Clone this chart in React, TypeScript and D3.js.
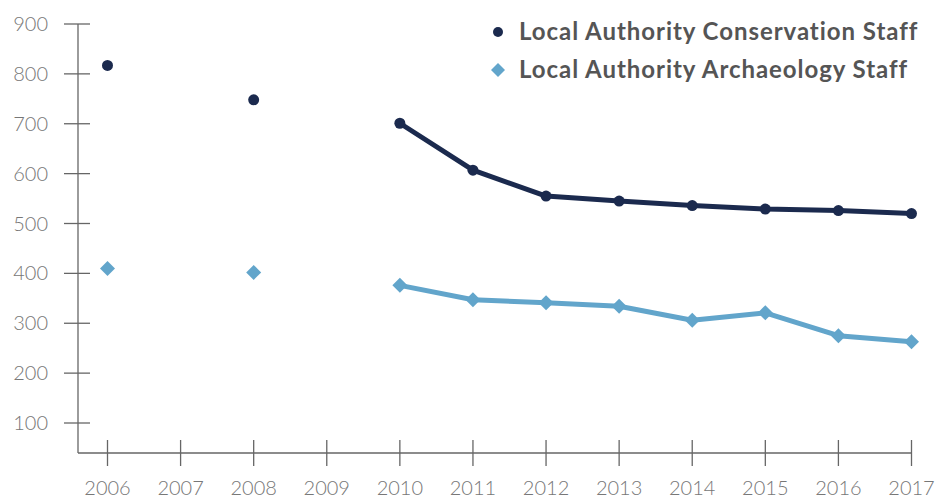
import React from 'react';
import * as d3 from 'd3';

const years = [2006, 2007, 2008, 2009, 2010, 2011, 2012, 2013, 2014, 2015, 2016, 2017];
// null = no survey that year
const conservation = [817, null, 748, null, 701, 607, 555, 545, 536, 529, 526, 520];
const archaeology = [410, null, 402, null, 376, 347, 341, 334, 306, 321, 275, 263];
const yTicks = [100, 200, 300, 400, 500, 600, 700, 800, 900];
const seriesNames = ['Local Authority Conservation Staff', 'Local Authority Archaeology Staff'];

const width = 935;
const height = 499;
const axisY = 453;
const axisX = 78;

const darkBlue = '#1b2a4e';
const lightBlue = '#62a5cb';
const axisColor = '#666';
const font = "'Source Sans Pro', Lato, 'Open Sans', sans-serif";

const App = () => {
  const x = d3.scalePoint<number>().domain(years).range([107.5, 911.5]);
  const y = d3.scaleLinear().domain([100, 900]).range([423, 24]);

  // only connect the yearly run from 2010 onwards
  const line = d3
    .line<[number, number | null]>()
    .defined((d) => d[1] !== null && d[0] >= 2010)
    .x((d) => x(d[0]) as number)
    .y((d) => y(d[1] as number));

  const pairs = (vals: (number | null)[]) => years.map((yr, i) => [yr, vals[i]] as [number, number | null]);

  const diamond = (cx: number, cy: number, r: number) =>
    `M${cx},${cy - r}L${cx + r},${cy}L${cx},${cy + r}L${cx - r},${cy}Z`;

  return (
    <svg width={width} height={height} style={{ position: 'absolute', left: 0, top: 0 }}>
      {/* y axis */}
      <line x1={axisX} x2={axisX} y1={y(900)} y2={axisY} stroke={axisColor} strokeWidth={1.3} />
      {yTicks.map((t) => (
        <g key={t}>
          <line x1={axisX - 14} x2={axisX + 12} y1={y(t)} y2={y(t)} stroke={axisColor} strokeWidth={1.3} />
          <text x={48} y={y(t)} dy="0.35em" textAnchor="end" fontFamily={font} fontWeight={300} fontSize={20} fill="#777">
            {t}
          </text>
        </g>
      ))}

      {/* x axis */}
      <line x1={axisX} x2={x(2017)} y1={axisY} y2={axisY} stroke={axisColor} strokeWidth={1.3} />
      {years.map((yr) => (
        <g key={yr}>
          <line x1={x(yr)} x2={x(yr)} y1={axisY - 13} y2={axisY + 13} stroke={axisColor} strokeWidth={1.3} />
          <text x={x(yr)} y={495} textAnchor="middle" fontFamily={font} fontWeight={300} fontSize={20} fill="#777">
            {yr}
          </text>
        </g>
      ))}

      {/* series */}
      <path d={line(pairs(conservation)) || ''} fill="none" stroke={darkBlue} strokeWidth={5} strokeLinejoin="round" />
      <path d={line(pairs(archaeology)) || ''} fill="none" stroke={lightBlue} strokeWidth={5} strokeLinejoin="round" />
      {pairs(conservation)
        .filter((d) => d[1] !== null)
        .map((d) => (
          <circle key={d[0]} cx={x(d[0])} cy={y(d[1] as number)} r={5.5} fill={darkBlue} />
        ))}
      {pairs(archaeology)
        .filter((d) => d[1] !== null)
        .map((d) => (
          <path key={d[0]} d={diamond(x(d[0]) as number, y(d[1] as number), 7.5)} fill={lightBlue} />
        ))}

      {/* legend */}
      <circle cx={498} cy={32} r={5} fill={darkBlue} />
      <path d={diamond(498, 70, 7)} fill={lightBlue} />
      <text x={519} y={32} dy="0.35em" fontFamily={font} fontWeight={700} fontSize={24} letterSpacing={0.95} fill="#555">
        {seriesNames[0]}
      </text>
      <text x={519} y={70} dy="0.35em" fontFamily={font} fontWeight={700} fontSize={24} letterSpacing={0.95} fill="#555">
        {seriesNames[1]}
      </text>
    </svg>
  );
};

export default App;
